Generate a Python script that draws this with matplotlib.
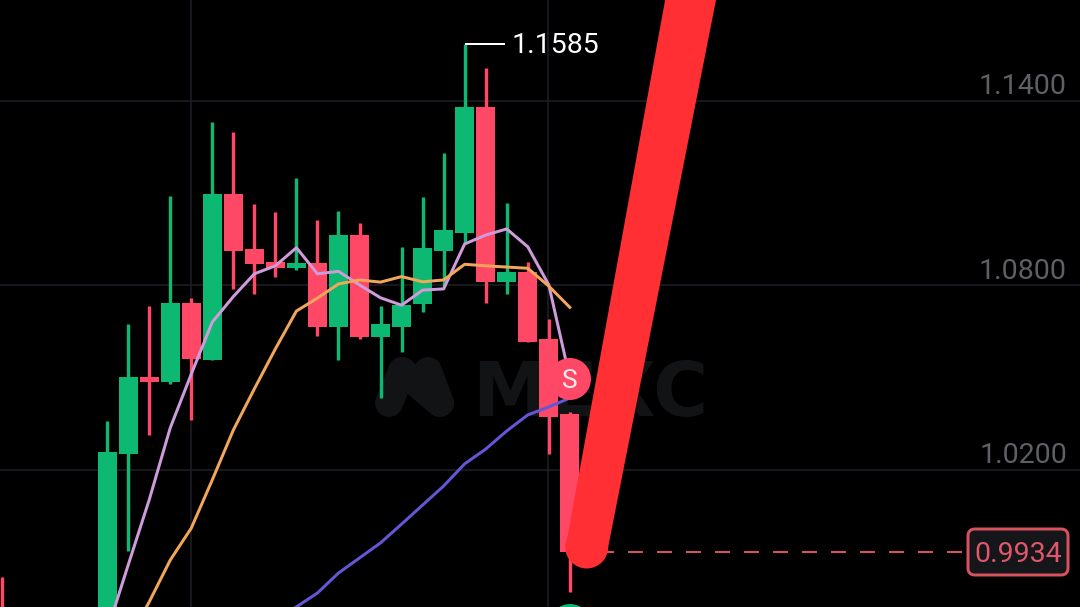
import matplotlib
matplotlib.use("Agg")
import matplotlib.pyplot as plt
from matplotlib.patches import Circle, FancyBboxPatch, Polygon
from matplotlib.transforms import IdentityTransform

W, H = 1080, 607
# ---- data (prices) ----
idx = [0, 5, 6, 7, 8, 9, 10, 11, 12, 13, 14, 15, 16, 17, 18, 19, 20, 21, 22, 23, 24, 25, 26, 27]
opens  = [0.9600, 0.9647, 1.0251, 1.0503, 1.0487, 1.0744, 1.0559, 1.1098, 1.0919, 1.0877, 1.0858, 1.0873, 1.0666, 1.0964, 1.0634, 1.0666, 1.0739, 1.0913, 1.0970, 1.1380, 1.0810, 1.0843, 1.0625, 1.0382]
closes = [0.9500, 1.0259, 1.0502, 1.0486, 1.0744, 1.0560, 1.1098, 1.0911, 1.0869, 1.0858, 1.0874, 1.0666, 1.0963, 1.0634, 1.0674, 1.0737, 1.0923, 1.0980, 1.1380, 1.0810, 1.0843, 1.0615, 1.0373, 0.9934]
highs  = [0.9852, 1.0359, 1.0675, 1.0733, 1.1091, 1.0760, 1.1332, 1.1299, 1.1066, 1.1039, 1.1151, 1.1013, 1.1041, 1.1002, 1.0733, 1.0924, 1.1087, 1.1231, 1.1585, 1.1506, 1.1067, 1.0876, 1.0691, 1.0389]
lows   = [0.9400, 0.9600, 0.9937, 1.0315, 1.0480, 1.0363, 1.0559, 1.0788, 1.0771, 1.0827, 1.0851, 1.0637, 1.0558, 1.0627, 1.0435, 1.0584, 1.0714, 1.0796, 1.0938, 1.0744, 1.0771, 1.0615, 1.0252, 0.9804]

ma_fast_idx = [5, 6, 7, 8, 9, 10, 11, 12, 13, 14, 15, 16, 17, 18, 19, 20, 21, 22, 23, 24, 25, 26, 27]
ma_fast = [0.9676, 0.9891, 1.0103, 1.0337, 1.0512, 1.0681, 1.0764, 1.0838, 1.0864, 1.0923, 1.0838, 1.0846, 1.0802, 1.0760, 1.0736, 1.0785, 1.0789, 1.0935, 1.0964, 1.0984, 1.0926, 1.0802, 1.0499]
ma_mid_idx = [6, 7, 8, 9, 10, 11, 12, 13, 14, 15, 16, 17, 18, 19, 20, 21, 22, 23, 24, 25, 26, 27]
ma_mid = [0.9647, 0.9771, 0.9907, 1.0011, 1.0168, 1.0330, 1.0464, 1.0594, 1.0717, 1.0759, 1.0805, 1.0818, 1.0811, 1.0829, 1.0812, 1.0818, 1.0869, 1.0864, 1.0860, 1.0856, 1.0798, 1.0729]
ma_slow_idx = [13, 14, 15, 16, 17, 18, 19, 20, 21, 22, 23, 24, 25, 26, 27]
ma_slow = [0.9706, 0.9755, 0.9800, 0.9865, 0.9914, 0.9963, 1.0024, 1.0086, 1.0148, 1.0220, 1.0268, 1.0327, 1.0379, 1.0405, 1.0434]

grid_prices = [1.14, 1.08, 1.02]
grid_labels = ["1.1400", "1.0800", "1.0200"]
grid_idx = [9, 26]
high_label = "1.1585"
last_price = 0.9934
last_label = "0.9934"
signal_label = "S"
watermark = "MEXC"

# pixel <-> data scales: 21.03 px per candle, 3075 px per price unit
x_left = -2.0 / 21.03
x_right = x_left + W / 21.03
y_top = 1.14 + 101 / 3075
y_bot = y_top - H / 3075

GREEN, RED = "#0CB872", "#FF4766"

fig = plt.figure(figsize=(W / 100, H / 100), dpi=100, facecolor="black")
ax = fig.add_axes([0, 0, 1, 1], facecolor="black")
ax.set_xlim(x_left, x_right)
ax.set_ylim(y_bot, y_top)
ax.axis("off")
plt.rcParams["font.family"] = ["Roboto", "DejaVu Sans"]

px = lambda v: v * 72 / 100  # px to points
dx = 1 / 21.03
dy = 1 / 3075
def pt(xp, yp):
    return (x_left + xp * dx, y_top - yp * dy)
tr = IdentityTransform()

# grid
for p in grid_prices:
    ax.axhline(p, color="#1D1F25", lw=px(1.6), zorder=1)
for i in grid_idx:
    ax.axvline(i - 0.02, color="#1D1F25", lw=px(1.6), zorder=1)

# watermark
wm = "#121315"
for seg in ([(389, 403), (402, 371)], [(402, 371), (440, 403)], [(428, 371), (440, 403)]):
    ax.plot(*zip(*[pt(*s) for s in seg]), color=wm, lw=px(28), solid_capstyle="round", zorder=1.5)
ax.text(*pt(590, 387), watermark, color=wm, fontsize=54, fontweight="bold", ha="center", va="center_baseline",
        family="DejaVu Sans", zorder=1.5)

# candles
body_w = 19 / 21.03
for i, o, c, h, l in zip(idx, opens, closes, highs, lows):
    col = GREEN if c >= o else RED
    ax.vlines(i, l, h, color=col, lw=px(3.4), zorder=3)
    ax.bar(i, abs(c - o), bottom=min(o, c), width=body_w, color=col, zorder=3, lw=0)

# moving averages
ax.plot(ma_slow_idx, ma_slow, color="#6456D6", lw=px(3), zorder=4)
ax.plot(ma_fast_idx, ma_fast, color="#CE9BDB", lw=px(3), zorder=4)
ax.plot(ma_mid_idx, ma_mid, color="#F2A65A", lw=px(3), zorder=4)

# high marker
ax.hlines(highs[idx.index(22)], 22, 22 + 40 / 21.03, color="white", lw=px(2), zorder=5)
ax.text(*pt(512, 43), high_label, color="white", fontsize=20.5, ha="left", va="center_baseline", zorder=6)

# axis labels (sit just above their grid lines)
for p, s in zip(grid_prices, grid_labels):
    ax.text(x_left + 1067 * dx, p + 17 * dy, s, color="#5E6065", fontsize=20.5, ha="right", va="center_baseline", zorder=6)

# last price dashed line + box
ax.hlines(last_price, 27, x_left + 967 * dx, color="#D9505F", lw=px(2), linestyles=(0, (7.5, 7)), zorder=2)
box = FancyBboxPatch((968, H - 575), 100, 46, boxstyle="round,pad=0,rounding_size=7", transform=tr,
                     fc="#14161A", ec="#D9505F", lw=px(3), zorder=6)
ax.add_patch(box)
ax.text(*pt(1018, 552), last_label, color="#E0566A", fontsize=20.5, ha="center", va="center_baseline", zorder=7)

# signal markers
ax.add_patch(Circle((570, H - 379), 21, transform=tr, fc=RED, ec="none", zorder=7))
ax.text(*pt(570, 379), signal_label, color="#FFE9EC", fontsize=19, ha="center", va="center_baseline", zorder=8)
ax.add_patch(Circle((570, H - 625), 21, transform=tr, fc=GREEN, ec="none", zorder=7))

# overlaid red stroke
ax.add_patch(Polygon([(565.5, H - 548), (608, H - 548), (717, H + 5), (666, H + 5)], closed=True, transform=tr,
                     fc="#FF2F33", ec="none", zorder=9))
ax.add_patch(Circle((586.7, H - 547), 21.5, transform=tr, fc="#FF2F33", ec="none", zorder=9))

fig.savefig("out.png", dpi=100, facecolor="black")
